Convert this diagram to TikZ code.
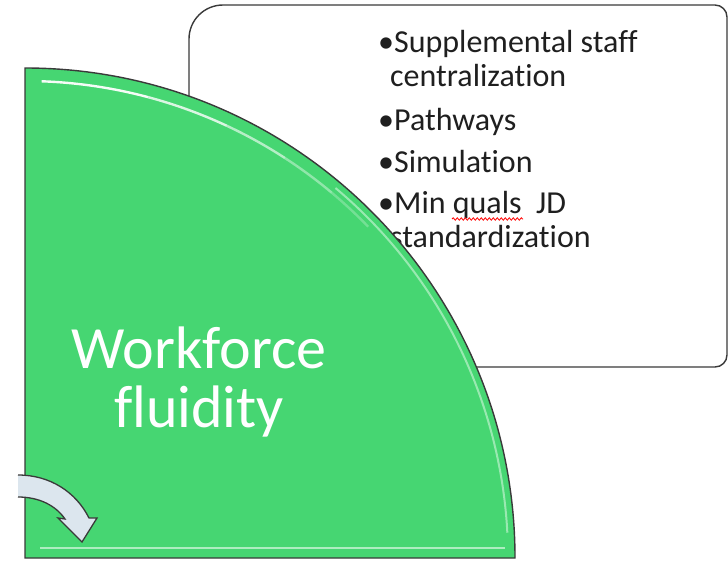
\documentclass[tikz,border=0pt]{standalone}
\usepackage{fontspec}
\setmainfont{Carlito}[Ligatures={NoCommon}]
\usetikzlibrary{decorations.pathmorphing}
\definecolor{leaf}{HTML}{46D672}
\definecolor{edgegray}{HTML}{3A3A3A}
\definecolor{arrowfill}{HTML}{DCE6EE}
\begin{document}
\begin{tikzpicture}[x=1pt,y=-1pt,
  bul/.style={anchor=base west, inner sep=0pt, font=\fontsize{32}{33}\selectfont, text=black!88},
  ttl/.style={anchor=base, inner sep=0pt, font=\fontsize{60}{72}\selectfont, text=white}]
\useasboundingbox (0,0) rectangle (728,562);
\begin{scope}
\clip (0,0) rectangle (728,562);
% rounded rectangle
\draw[edgegray, line width=1.4, fill=white]
  (400,5) [rounded corners=12] -- (727,5) -- (727,367) -- (300,367)
  [rounded corners=34] -- (189,367) -- (189,5) -- (400,5);
% bullet texts
\node[bul] (b1) at (378,52) {•Supplemental staff};
\node[bul] (b1b) at (390,86) {centralization};
\node[bul] (b2) at (378,130) {•Pathways};
\node[bul] (b3) at (378,172) {•Simulation};
\node[bul] (b4) at (378,213) {•Min quals\ \ JD};
\node[bul] (b4b) at (390,247) {standardization};
\draw[red, line width=0.8, decorate, decoration={snake, amplitude=1.2, segment length=4}] (452,219) -- (523,219);
% green quarter
\filldraw[fill=leaf, draw=edgegray, line width=1.4]
  (25,558) -- (25,68) arc[start angle=-90, end angle=0, radius=490] -- cycle;
\foreach \a/\b/\o in {-88/-75/.95,-75/-65/.8,-65/-57/.6,-57/-50/.4,-50/-44/.25}{
  \draw[white, line width=2.4, opacity=\o] (25,558) ++(\a:477) arc[start angle=\a, end angle=\b, radius=477];
}
\draw[leaf!55!white, line width=2] (25,558) ++(-50:483) arc[start angle=-50, end angle=-3, radius=483];
\draw[white!55!leaf, line width=2.6] (40,548) -- (505,548);
% title
\node[ttl] (t1) at (199,368) {Workforce};
\node[ttl] (t2) at (199,427) {fluidity};
% arrow
\filldraw[fill=arrowfill, draw=edgegray, line width=1.3, line join=miter]
  (18,497) .. controls (40,497) and (56,506) .. (65,519) -- (58,518) -- (82,542) -- (97,518) -- (89,518)
  .. controls (76,492) and (50,475) .. (18,475);
\end{scope}
\end{tikzpicture}
\end{document}
